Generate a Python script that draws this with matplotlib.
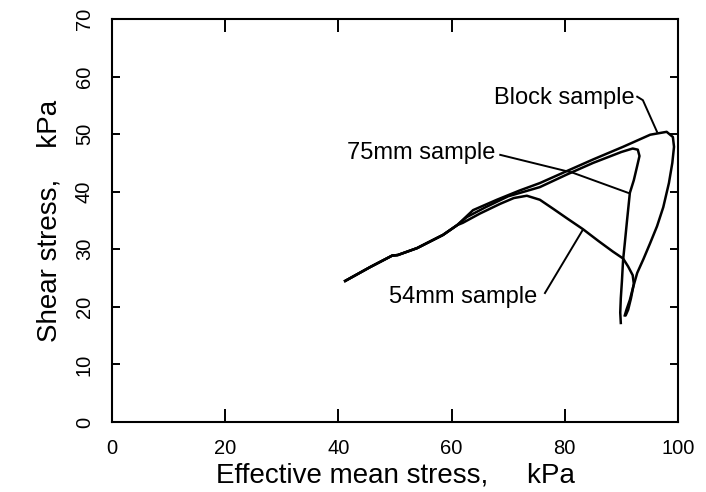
import numpy as np
import matplotlib.pyplot as plt

plt.rcParams['font.family'] = ['Liberation Sans', 'DejaVu Sans']

# Stress paths (effective mean stress p', shear stress q), kPa
block_p = [41.2, 45.6, 49.5, 50.5, 53.9, 58.5, 61.0, 63.8, 68.0, 72.0, 75.6, 80.4, 85.0,
           90.3, 95.1, 98.0, 99.1, 99.3, 99.0, 98.4, 97.4, 96.3, 95.1, 93.9, 92.8,
           92.1, 91.5, 90.9, 90.6]
block_q = [24.5, 26.9, 28.9, 29.0, 30.2, 32.5, 34.2, 36.8, 38.6, 40.2, 41.5, 43.6, 45.6,
           47.8, 49.9, 50.4, 49.5, 47.8, 45.0, 41.5, 37.3, 34.0, 31.1, 28.3, 25.9,
           23.5, 21.2, 19.5, 18.5]

mm75_p = [41.2, 45.6, 49.5, 50.5, 53.9, 58.5, 61.0, 62.7, 66.0, 70.0, 75.6, 80.4, 85.0,
          90.0, 92.0, 92.9, 93.2, 92.8, 92.2, 91.5, 91.0, 90.6, 90.3, 90.1, 89.9,
          89.8, 89.9]
mm75_q = [24.5, 26.9, 28.9, 29.0, 30.2, 32.5, 34.2, 35.6, 37.3, 39.2, 40.8, 43.0, 45.0,
          46.9, 47.5, 47.3, 46.2, 44.5, 42.0, 39.8, 35.0, 31.0, 28.1, 24.5, 21.5,
          19.0, 17.2]

mm54_p = [41.2, 45.6, 49.5, 50.5, 53.9, 58.5, 61.0, 62.0, 65.0, 68.6, 71.0, 73.3, 75.6,
          78.0, 80.5, 83.2, 86.0, 88.5, 90.3, 91.2, 92.0, 92.2, 91.7, 91.2, 90.8]
mm54_q = [24.5, 26.9, 28.9, 29.0, 30.2, 32.5, 34.2, 34.6, 36.2, 37.9, 38.9, 39.3, 38.6,
          37.0, 35.3, 33.5, 31.4, 29.6, 28.4, 27.0, 25.5, 24.0, 21.5, 19.5, 18.6]

# annotation text positions and leader lines
labels = ['Block sample', '75mm sample', '54mm sample']
label_xy = [(79.9, 56.3), (54.7, 46.7), (62.1, 21.7)]
leader_p = [[92.8, 93.8, 96.3], [68.6, 81.4, 91.2], [76.5, 83.2]]
leader_q = [[56.5, 55.9, 50.4], [46.4, 43.3, 39.8], [22.4, 33.4]]

fig = plt.figure(figsize=(7.06, 4.92), dpi=100)
ax = fig.add_axes([0.1586, 0.1423, 0.8017, 0.8191])

for p, q in [(block_p, block_q), (mm75_p, mm75_q), (mm54_p, mm54_q)]:
    ax.plot(p, q, color='black', lw=1.8, solid_joinstyle='round')

for txt, (tx, ty), lp, lq in zip(labels, label_xy, leader_p, leader_q):
    ax.text(tx, ty, txt, fontsize=17, ha='center', va='center')
    ax.plot(lp, lq, color='black', lw=1.4)

ax.set_xlim(0, 100)
ax.set_ylim(0, 70)
ax.set_xticks(np.arange(0, 101, 20))
ax.set_yticks(np.arange(0, 71, 10))

for s in ax.spines.values():
    s.set_linewidth(1.5)

ax.tick_params(axis='both', direction='in', top=True, right=True, width=1.4,
               labelsize=14.5)
ax.tick_params(axis='x', length=9.5, pad=12)
ax.tick_params(axis='y', length=6, pad=13, labelrotation=90)
for lab in ax.get_yticklabels():
    lab.set_va('center')

ax.set_xlabel('Effective mean stress,     kPa', fontsize=20)
ax.set_ylabel('Shear stress,    kPa', fontsize=20)
ax.xaxis.set_label_coords(0.5, -0.1)
ax.yaxis.set_label_coords(-0.087, 0.5)

plt.savefig('out.png', dpi=100)
